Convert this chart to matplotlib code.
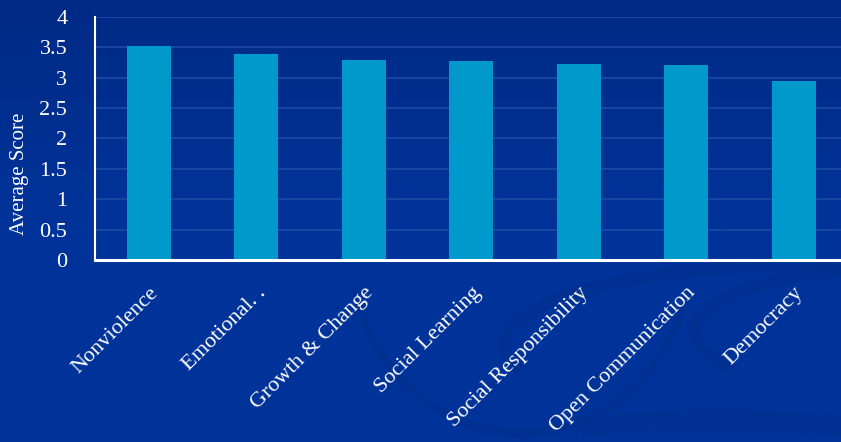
import matplotlib
matplotlib.use("Agg")
import matplotlib.pyplot as plt
import numpy as np
from matplotlib.patches import Arc

categories = ["Nonviolence", "Emotional. .", "Growth & Change", "Social Learning",
              "Social Responsibility", "Open Communication", "Democracy"]
scores = [3.52, 3.39, 3.29, 3.28, 3.23, 3.21, 2.95]
yticks = [0, 0.5, 1, 1.5, 2, 2.5, 3, 3.5, 4]
ytick_labels = ["0", "0.5", "1", "1.5", "2", "2.5", "3", "3.5", "4"]

BG = "#003399"
BAR = "#0099cc"
SERIF = ["Liberation Serif", "DejaVu Serif"]

fig = plt.figure(figsize=(8.41, 4.42), dpi=100)

# background gradient + faint swooshes
bg = fig.add_axes([0, 0, 1, 1], zorder=0)
grad = np.linspace(0, 1, 256).reshape(-1, 1)
cmap = matplotlib.colors.LinearSegmentedColormap.from_list("bg", ["#002a85", BG, BG])
bg.imshow(grad, aspect="auto", cmap=cmap, extent=[0, 1, 0, 1], origin="upper")
for cx, cy, w, h, t1, t2, lw in [(0.95, 0.22, 0.70, 0.36, 60, 190, 9),
                                 (1.10, 0.25, 0.55, 0.30, 90, 200, 9),
                                 (0.62, 0.42, 0.40, 0.80, 200, 330, 6),
                                 (0.85, -0.10, 0.70, 0.30, 0, 140, 14)]:
    bg.add_patch(Arc((cx, cy), w, h, theta1=t1, theta2=t2,
                     color="#00308f", lw=lw, alpha=0.8))
bg.set_xlim(0, 1)
bg.set_ylim(0, 1)
bg.axis("off")

ax = fig.add_axes([0.113, 0.412, 0.887, 0.5495], zorder=1)
ax.patch.set_alpha(0)
x = np.arange(len(categories))
ax.bar(x, scores, width=0.41, color=BAR, zorder=3)

ax.set_xlim(-0.5, 6.44)
ax.set_ylim(0, 4)
ax.set_yticks(yticks)
ax.set_yticklabels(ytick_labels, family=SERIF, fontsize=16, color="white")
ax.yaxis.grid(True, color="#1c4aa6", lw=1.2, zorder=1)
ax.tick_params(axis="y", length=0, pad=20)
ax.set_xticks(x)
ax.set_xticklabels(categories, rotation=45, ha="right", rotation_mode="anchor",
                   family=SERIF, fontsize=16, color="white")
ax.tick_params(axis="x", length=0, pad=17)
fig.text(20 / 841, 1 - 174 / 442, "Average Score", rotation=90, ha="center",
         va="center", family=SERIF, fontsize=15, color="white")

for s in ["top", "right"]:
    ax.spines[s].set_visible(False)
ax.spines["left"].set_color("white")
ax.spines["left"].set_linewidth(1.5)
ax.spines["bottom"].set_color("white")
ax.spines["bottom"].set_linewidth(2.2)
ax.spines["bottom"].set_zorder(4)

fig.savefig("out.png", dpi=100, facecolor=BG)
